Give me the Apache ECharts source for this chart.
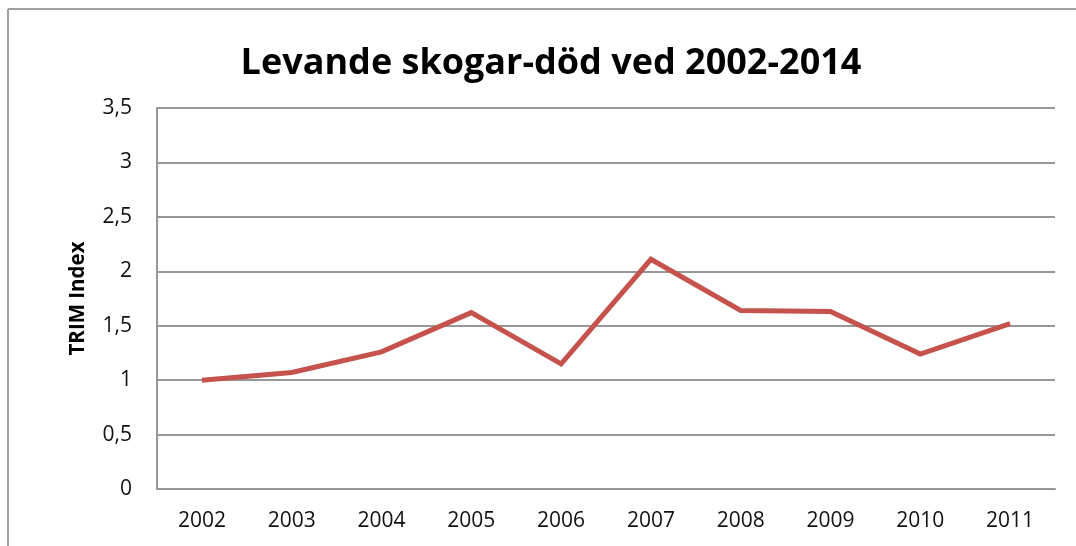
<!DOCTYPE html>
<html>
<head>
<meta charset="utf-8">
<script src="https://cdn.jsdelivr.net/npm/echarts@6/dist/echarts.min.js"></script>
<style>
  html, body { margin: 0; padding: 0; background: #fff; }
  #chart { width: 1076px; height: 546px; }
</style>
</head>
<body>
<div id="chart"></div>
<script>
// Survey years on the category axis
const years = ['2002', '2003', '2004', '2005', '2006', '2007', '2008', '2009', '2010', '2011'];
// TRIM index for dead wood in living forests
const trimIndex = [1.0, 1.07, 1.26, 1.62, 1.15, 2.11, 1.64, 1.63, 1.24, 1.52];
// Value axis range and step
const yMin = 0;
const yMax = 3.5;
const yStep = 0.5;

const chartTitle = 'Levande skogar-död ved 2002-2014';
const yAxisTitle = 'TRIM Index';

const font = '"Open Sans", Calibri, sans-serif';
const gridGray = '#979797';

const chart = echarts.init(document.getElementById('chart'), null, { renderer: 'canvas' });

chart.setOption({
  animation: false,
  backgroundColor: '#ffffff',
  title: {
    text: chartTitle,
    left: 546,
    textAlign: 'center',
    top: 41,
    textStyle: { fontFamily: font, fontWeight: 'bold', fontSize: 36, color: '#000' }
  },
  graphic: [
    // outer chart frame (top and left edges)
    { type: 'line', shape: { x1: 8, y1: 9, x2: 1076, y2: 9 }, style: { stroke: '#a0a0a0', lineWidth: 2 } },
    { type: 'line', shape: { x1: 8, y1: 9, x2: 8, y2: 546 }, style: { stroke: '#a0a0a0', lineWidth: 2 } }
  ],
  grid: { left: 157, right: 21, top: 108, bottom: 57, containLabel: false },
  xAxis: {
    type: 'category',
    data: years,
    boundaryGap: true,
    axisLine: { show: true, lineStyle: { color: gridGray, width: 2 } },
    axisTick: { show: false },
    axisLabel: { fontFamily: font, fontSize: 21, color: '#111', margin: 22 }
  },
  yAxis: {
    type: 'value',
    min: yMin,
    max: yMax,
    interval: yStep,
    name: yAxisTitle,
    nameLocation: 'middle',
    nameGap: 68,
    nameRotate: 90,
    nameTextStyle: { fontFamily: font, fontWeight: 'bold', fontSize: 20.5, color: '#000' },
    axisLine: { show: true, lineStyle: { color: gridGray, width: 2 } },
    axisTick: { show: false },
    splitLine: { show: true, lineStyle: { color: gridGray, width: 2 } },
    axisLabel: {
      fontFamily: font, fontSize: 21, color: '#111', margin: 25,
      formatter: v => String(v).replace('.', ',')
    }
  },
  series: [{
    type: 'line',
    data: trimIndex,
    symbol: 'none',
    lineStyle: { color: '#C5524D', width: 5, join: 'miter' },
    z: 3
  }]
});
</script>
</body>
</html>
